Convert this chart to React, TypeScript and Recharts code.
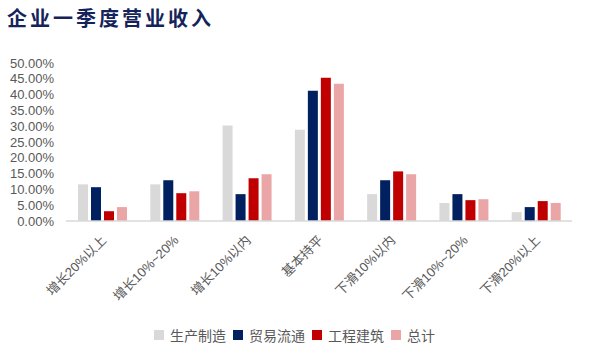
import { Bar, BarChart, Legend, XAxis, YAxis } from "recharts";

const categories = [
  "增长20%以上",
  "增长10%~20%",
  "增长10%以内",
  "基本持平",
  "下滑10%以内",
  "下滑10%~20%",
  "下滑20%以上",
];
const manufacturing = [11.6, 11.6, 30.2, 28.9, 8.5, 5.7, 2.8];
const trade = [10.7, 12.9, 8.5, 41.2, 12.9, 8.5, 4.4];
const construction = [3.1, 8.8, 13.5, 45.3, 15.7, 6.6, 6.3];
const total = [4.4, 9.4, 14.8, 43.4, 14.8, 6.9, 5.7];
const yTicks = [0, 5, 10, 15, 20, 25, 30, 35, 40, 45, 50];

const series = [
  { key: "生产制造", values: manufacturing, color: "#d9d9d9" },
  { key: "贸易流通", values: trade, color: "#002060" },
  { key: "工程建筑", values: construction, color: "#c00000" },
  { key: "总计", values: total, color: "#eaa6a6" },
];

const data = categories.map((name, i) => {
  const row: Record<string, string | number> = { name };
  series.forEach((s) => (row[s.key] = s.values[i]));
  return row;
});

const FONT = "'Liberation Sans', 'Noto Sans CJK SC', sans-serif";
const TEXT = "#595959";

function XTick({ x, y, payload }: any) {
  return (
    <text
      x={x + 5}
      y={y + 12}
      transform={`rotate(-45, ${x + 5}, ${y + 12})`}
      textAnchor="end"
      fill={TEXT}
      fontSize={13}
      fontFamily={FONT}
    >
      {payload.value}
    </text>
  );
}

function LegendContent() {
  return (
    <div
      style={{
        display: "flex",
        justifyContent: "center",
        alignItems: "center",
        fontFamily: FONT,
        fontSize: 14,
        color: TEXT,
        paddingLeft: 24,
      }}
    >
      {series.map((s) => (
        <span key={s.key} style={{ display: "flex", alignItems: "center", marginRight: 7 }}>
          <span style={{ width: 10, height: 10, background: s.color, marginRight: 6 }} />
          {s.key}
        </span>
      ))}
    </div>
  );
}

export default function App() {
  return (
    <div style={{ position: "absolute", left: 0, top: 0, width: 592, height: 360, background: "#fff" }}>
      <div
        style={{
          position: "absolute",
          left: 7,
          top: 3,
          fontFamily: "'Noto Sans CJK SC', serif",
          fontWeight: 700,
          fontSize: 20,
          letterSpacing: 3,
          color: "#14245a",
        }}
      >
        企业一季度营业收入
      </div>
      <BarChart
        width={592}
        height={360}
        data={data}
        margin={{ top: 63, right: 20, bottom: 11, left: 0 }}
        barSize={10}
        barGap={3}
      >
        <XAxis
          dataKey="name"
          interval={0}
          height={104}
          tickLine={false}
          axisLine={{ stroke: "#d9d9d9", strokeWidth: 1.5 }}
          tick={<XTick />}
        />
        <YAxis
          width={66}
          domain={[0, 50]}
          ticks={yTicks}
          interval={0}
          axisLine={false}
          tickLine={false}
          tickMargin={6}
          tickFormatter={(v: number) => `${v.toFixed(2)}%`}
          tick={{ fill: TEXT, fontSize: 13, fontFamily: FONT }}
        />
        <Legend verticalAlign="bottom" height={24} content={<LegendContent />} />
        {series.map((s) => (
          <Bar key={s.key} dataKey={s.key} fill={s.color} isAnimationActive={false} />
        ))}
      </BarChart>
    </div>
  );
}
